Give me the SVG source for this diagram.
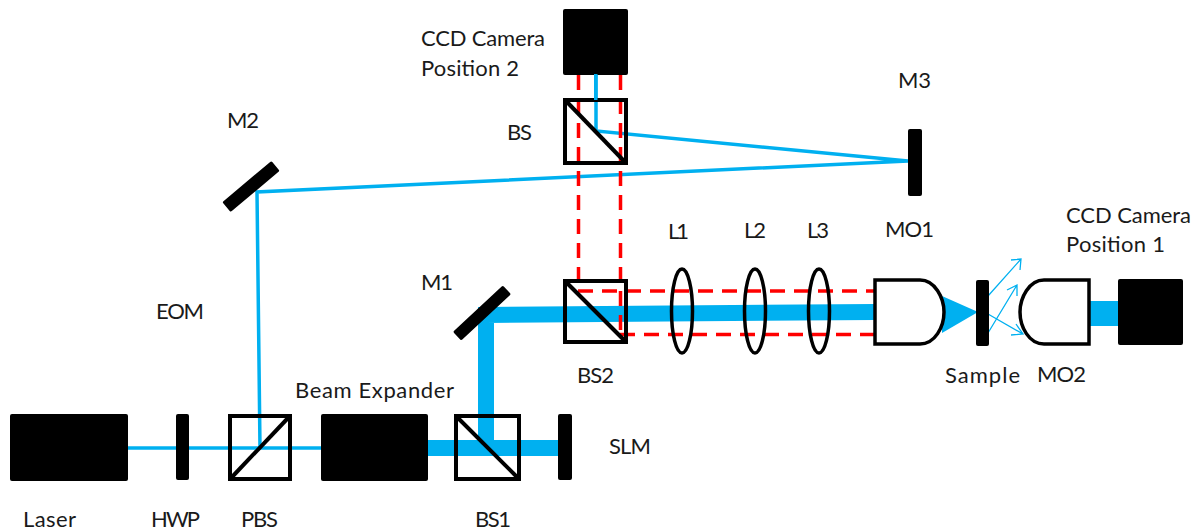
<svg xmlns="http://www.w3.org/2000/svg" width="1198" height="531" viewBox="0 0 1198 531">
<style>
text{font-family:"Lato","Carlito","Open Sans",sans-serif;font-size:22px;fill:#1a1a1a}
.blk{fill:#000}
.cube{fill:#fff;stroke:#000;stroke-width:4;stroke-linejoin:round}
.cube2{fill:none;stroke:#000;stroke-width:4}
.lens{fill:none;stroke:#000;stroke-width:3.5}
.red{fill:none;stroke:#f00;stroke-width:3.5;stroke-dasharray:15 9}
.thin{fill:none;stroke:#00b0f0;stroke-width:3.5}
.thick{fill:none;stroke:#00b0f0;stroke-width:16}
.ray{fill:none;stroke:#00b0f0;stroke-width:1.3}
.mo{fill:#fff;stroke:#000;stroke-width:3.5}
</style>
<g id="cubes-back">
<rect class="cube" x="230" y="416" width="60" height="63"/>
<rect class="cube" x="456" y="416" width="63" height="63"/>
<rect class="cube" x="565" y="281" width="61" height="61"/>
<rect class="cube" x="565" y="100" width="61" height="63"/>
</g>
<g id="connectors">
<polyline class="thin" points="127,448 322,448"/>
<polyline class="thin" points="260,448 257,192 908,161 596,131 596,74"/>
<polyline class="thick" points="428,448 560,448"/>
<polyline class="thick" points="486,440 486,315 875,312"/>
<polygon points="942,296 978,312 942,333" fill="#00b0f0"/>
<rect x="1089" y="301" width="30" height="25" fill="#00b0f0"/>
<path class="red" d="M578.500 75V291M620.500 75V334M578 291H876M620 334.500H876"/>
<path class="ray" d="M988,296L1021,259M1011,260L1021,259L1020,270M988,333L1017,285M1007,290L1017,285L1017,296M988,314L1023,334M1011,335L1023,334L1016,324"/>
</g>
<g id="Laser"><rect class="blk" x="10" y="414" width="118" height="67" rx="2"/><text x="23" y="527" textLength="53">Laser</text></g>
<g id="HWP"><rect class="blk" x="176" y="414" width="13" height="66" rx="2"/><text x="151" y="527" textLength="49">HWP</text></g>
<g id="PBS"><rect class="cube2" x="230" y="416" width="60" height="63"/><line class="cube2" x1="232" y1="477" x2="288" y2="418"/><text x="241" y="527" textLength="37">PBS</text></g>
<g id="BeamExpander"><rect class="blk" x="321" y="414" width="107" height="67" rx="2"/><text x="295" y="398" textLength="159">Beam Expander</text></g>
<g id="BS1"><rect class="cube2" x="456" y="416" width="63" height="63"/><line class="cube2" x1="458" y1="418" x2="517" y2="477"/><text x="475" y="527" textLength="36">BS1</text></g>
<g id="SLM"><rect class="blk" x="558" y="414" width="14" height="66" rx="2"/><text x="609" y="454" textLength="42">SLM</text></g>
<g id="M1"><rect class="blk" x="448" y="307" width="68" height="12" rx="1.500" transform="rotate(-43 482 313)"/><text x="421" y="290" textLength="32">M1</text></g>
<g id="M2"><rect class="blk" x="219" y="180" width="64" height="13" rx="1.500" transform="rotate(-40 251 186.500)"/><text x="227" y="128" textLength="32">M2</text></g>
<g id="EOM"><text x="156" y="319" textLength="48">EOM</text></g>
<g id="BS2"><rect class="cube2" x="565" y="281" width="61" height="61"/><line class="cube2" x1="567" y1="283" x2="624" y2="340"/><text x="577" y="383" textLength="37">BS2</text></g>
<g id="BS"><rect class="cube2" x="565" y="100" width="61" height="63"/><line class="cube2" x1="567" y1="102" x2="624" y2="161"/><text x="507" y="140" textLength="25">BS</text></g>
<g id="Camera2"><rect class="blk" x="563" y="9" width="65" height="66" rx="2"/><text x="421" y="46" textLength="124">CCD Camera</text><text x="421" y="76" textLength="98">Position 2</text></g>
<rect x="594" y="74" width="3.500" height="26" fill="#00b0f0"/>
<g id="M3"><rect class="blk" x="908" y="129" width="14" height="67" rx="2"/><text x="898" y="88" textLength="33">M3</text></g>
<g id="L1"><ellipse class="lens" cx="682" cy="311" rx="10.500" ry="42"/><text x="668" y="239" textLength="21">L1</text></g>
<g id="L2"><ellipse class="lens" cx="755" cy="311" rx="10.500" ry="42"/><text x="744" y="238" textLength="22">L2</text></g>
<g id="L3"><ellipse class="lens" cx="819" cy="311" rx="10.500" ry="42"/><text x="807" y="238" textLength="22">L3</text></g>
<g id="MO1"><path class="mo" d="M875,280H920C935,280 944,298 944,312C944,327 935,344 920,344H875Z"/><text x="885" y="237" textLength="49">MO1</text></g>
<g id="Sample"><rect class="blk" x="976" y="280" width="13" height="66" rx="2"/><text x="945" y="383" textLength="75">Sample</text></g>
<g id="MO2"><path class="mo" d="M1089,280H1044C1029,280 1020,298 1020,312C1020,327 1029,344 1044,344H1089Z"/><text x="1037" y="382" textLength="49">MO2</text></g>
<g id="Camera1"><rect class="blk" x="1118" y="279" width="65" height="66" rx="2"/><text x="1066" y="223" textLength="125">CCD Camera</text><text x="1066" y="252" textLength="99">Position 1</text></g>
</svg>
